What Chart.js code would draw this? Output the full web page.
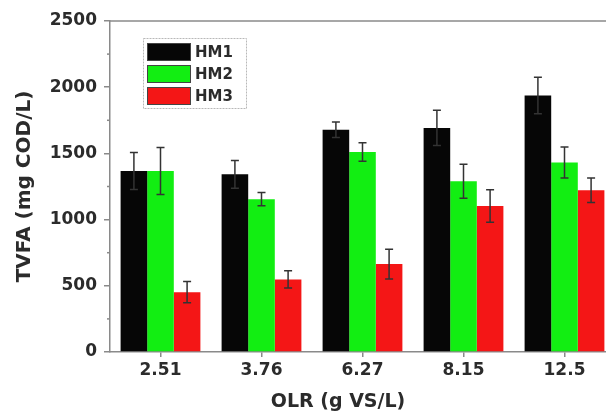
<!DOCTYPE html>
<html>
<head>
<meta charset="utf-8">
<script src="https://cdn.jsdelivr.net/npm/chart.js@4/dist/chart.umd.min.js"></script>
<style>
html,body{margin:0;padding:0;background:#fff;overflow:hidden;width:606px;height:416px;}
#wrap{position:absolute;left:0;top:0;width:624px;height:416px;overflow:visible;}
canvas{display:block;}
</style>
</head>
<body>
<div id="wrap"><canvas id="c" width="624" height="416" style="width:624px;height:416px;"></canvas></div>
<script>
const categories = ['2.51', '3.76', '6.27', '8.15', '12.5'];
const seriesNames = ['HM1', 'HM2', 'HM3'];
const hm1 = [1367, 1342, 1679, 1692, 1938];
const hm1Err = [140, 105, 58, 133, 138];
const hm2 = [1367, 1154, 1510, 1290, 1431];
const hm2Err = [178, 50, 70, 128, 117];
const hm3 = [452, 548, 664, 1103, 1222];
const hm3Err = [80, 65, 113, 123, 92];
const yMin = 0, yMax = 2500, yStep = 500, yMinorStep = 250;
const xTitle = 'OLR (g VS/L)';
const yTitle = 'TVFA (mg COD/L)';

const colors = ['#060606', '#12ee12', '#f41616'];
const errs = [hm1Err, hm2Err, hm3Err];
const textColor = '#2b2b2b';
const axisColor = '#8a8a8a';
const FONT = "'DejaVu Sans', sans-serif";

const extras = {
  id: 'extras',
  afterDatasetsDraw(chart) {
    const ctx = chart.ctx;
    const y = chart.scales.y;
    const area = chart.chartArea;
    ctx.save();
    // error bars
    ctx.strokeStyle = '#333';
    ctx.lineWidth = 1.5;
    chart.data.datasets.forEach((ds, di) => {
      const meta = chart.getDatasetMeta(di);
      meta.data.forEach((bar, i) => {
        const v = ds.data[i], e = errs[di][i];
        const yt = y.getPixelForValue(v + e), yb = y.getPixelForValue(v - e);
        ctx.beginPath();
        ctx.moveTo(bar.x, yt); ctx.lineTo(bar.x, yb);
        ctx.moveTo(bar.x - 4, yt); ctx.lineTo(bar.x + 4, yt);
        ctx.moveTo(bar.x - 4, yb); ctx.lineTo(bar.x + 4, yb);
        ctx.stroke();
      });
    });
    // minor ticks on y
    ctx.strokeStyle = axisColor;
    ctx.lineWidth = 1.5;
    for (let v = yMin + yMinorStep; v < yMax; v += yStep) {
      const py = y.getPixelForValue(v);
      ctx.beginPath();
      ctx.moveTo(area.left - 3, py); ctx.lineTo(area.left, py);
      ctx.stroke();
    }
    // top frame line
    ctx.beginPath();
    ctx.moveTo(area.left, area.top); ctx.lineTo(chart.width, area.top);
    ctx.stroke();
    // legend
    const lx = 143, ly = 38, lw = 103, lh = 70;
    ctx.strokeStyle = '#b8b8b8';
    ctx.lineWidth = 1;
    ctx.setLineDash([2, 1]);
    ctx.strokeRect(lx + 0.5, ly + 0.5, lw, lh);
    ctx.setLineDash([]);
    ctx.font = "bold 15px " + FONT;
    ctx.textBaseline = 'middle';
    ctx.textAlign = 'left';
    chart.data.datasets.forEach((ds, di) => {
      const cy = 52 + di * 22;
      ctx.fillStyle = ds.backgroundColor;
      ctx.fillRect(147, cy - 9, 44, 18);
      ctx.strokeStyle = '#444';
      ctx.strokeRect(147.5, cy - 8.5, 43, 17);
      ctx.fillStyle = textColor;
      ctx.fillText(ds.label, 195, cy + 1);
    });
    // x title
    ctx.font = "bold 19px " + FONT;
    ctx.textAlign = 'center';
    ctx.fillStyle = textColor;
    ctx.fillText(xTitle, 338, 402);
    ctx.restore();
  }
};

new Chart(document.getElementById('c'), {
  type: 'bar',
  data: {
    labels: categories,
    datasets: [
      { label: seriesNames[0], data: hm1, backgroundColor: colors[0] },
      { label: seriesNames[1], data: hm2, backgroundColor: colors[1] },
      { label: seriesNames[2], data: hm3, backgroundColor: colors[2] }
    ]
  },
  options: {
    responsive: false,
    maintainAspectRatio: false,
    animation: false,
    devicePixelRatio: 1,
    layout: { padding: { top: 21, right: 9, left: 0, bottom: 0 } },
    datasets: { bar: { categoryPercentage: 0.79, barPercentage: 1.0, borderWidth: 0 } },
    plugins: { legend: { display: false }, tooltip: { enabled: false } },
    scales: {
      x: {
        grid: { display: true, drawOnChartArea: false, drawTicks: true, tickLength: 5, offset: false, color: axisColor, lineWidth: 1.5 },
        border: { display: true, color: axisColor, width: 1.5 },
        ticks: { color: textColor, font: { family: FONT, size: 17, weight: 'bold' }, padding: 3, maxRotation: 0 },
        afterFit(s) { s.height = 64; }
      },
      y: {
        min: yMin, max: yMax,
        grid: { display: true, drawOnChartArea: false, drawTicks: true, tickLength: 6, color: axisColor, lineWidth: 1.5 },
        border: { display: true, color: axisColor, width: 1.5 },
        ticks: { stepSize: yStep, color: textColor, font: { family: FONT, size: 17, weight: 'bold' }, padding: 7,
                 callback: (v) => String(v) },
        title: { display: true, text: yTitle, color: textColor, font: { family: FONT, size: 20, weight: 'bold' }, padding: { top: 13, bottom: 0 } },
        afterFit(s) { s.width = 110; }
      }
    }
  },
  plugins: [extras]
});
</script>
</body>
</html>
